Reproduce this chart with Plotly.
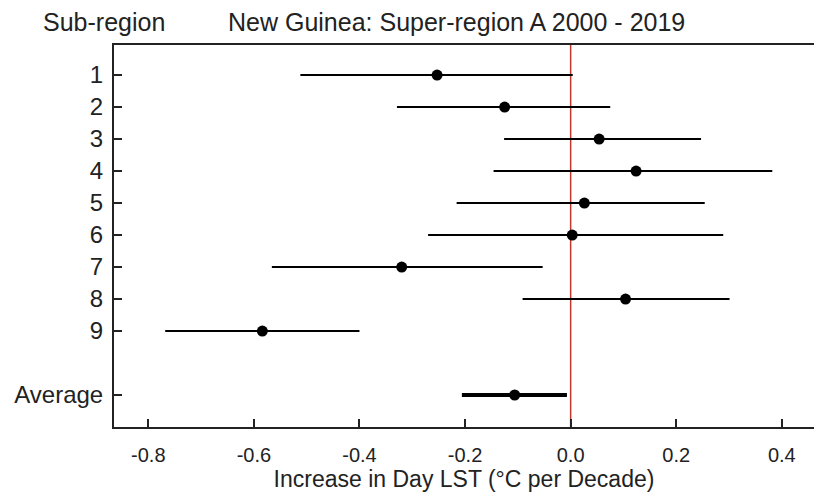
import plotly.graph_objects as go

labels = ["1", "2", "3", "4", "5", "6", "7", "8", "9"]
positions = [1, 2, 3, 4, 5, 6, 7, 8, 9]
estimate = [-0.253, -0.125, 0.054, 0.124, 0.026, 0.003, -0.320, 0.104, -0.584]
lower = [-0.512, -0.329, -0.126, -0.146, -0.216, -0.270, -0.566, -0.091, -0.768]
upper = [0.004, 0.075, 0.247, 0.382, 0.254, 0.289, -0.053, 0.301, -0.400]

avg_label = "Average"
avg_position = 11
avg_estimate = -0.106
avg_lower = -0.206
avg_upper = -0.007

x_ticks = [-0.8, -0.6, -0.4, -0.2, 0.0, 0.2, 0.4]
x_ticktext = ["-0.8", "-0.6", "-0.4", "-0.2", "0.0", "0.2", "0.4"]

FONT = "Liberation Sans, Arial, sans-serif"

fig = go.Figure()

fig.add_trace(go.Scatter(
    x=estimate, y=positions, mode="markers",
    marker=dict(color="black", size=11),
    error_x=dict(type="data", symmetric=False,
                 array=[u - e for u, e in zip(upper, estimate)],
                 arrayminus=[e - l for e, l in zip(estimate, lower)],
                 color="black", thickness=2, width=0),
    showlegend=False, hoverinfo="skip"))

fig.add_trace(go.Scatter(
    x=[avg_estimate], y=[avg_position], mode="markers",
    marker=dict(color="black", size=11),
    error_x=dict(type="data", symmetric=False,
                 array=[avg_upper - avg_estimate],
                 arrayminus=[avg_estimate - avg_lower],
                 color="black", thickness=4, width=0),
    showlegend=False, hoverinfo="skip"))

fig.add_shape(type="line", xref="x", yref="paper", x0=0, x1=0, y0=0, y1=1,
              line=dict(color="#c0392b", width=1.5), layer="below")

fig.update_layout(
    width=814, height=503,
    margin=dict(l=114, r=0, t=45, b=76),
    paper_bgcolor="white", plot_bgcolor="white",
    font=dict(family=FONT, color="#222222"),
    xaxis=dict(range=[-0.865, 0.461], tickvals=x_ticks, ticktext=x_ticktext,
               ticks="inside", ticklen=8, tickwidth=2, tickcolor="#222222",
               showline=True, linecolor="#222222", linewidth=2, mirror=True,
               showgrid=False, zeroline=False,
               tickfont=dict(size=20, family=FONT),
               ticklabelstandoff=9,
               title=dict(text="Increase in Day LST (°C per Decade)",
                          font=dict(size=23, family=FONT), standoff=4)),
    yaxis=dict(range=[12.0, 0.06], tickvals=positions + [avg_position],
               ticktext=labels + [avg_label],
               ticks="inside", ticklen=8, tickwidth=2, tickcolor="#222222",
               showline=True, linecolor="#222222", linewidth=2,
               showgrid=False, zeroline=False,
               tickfont=dict(size=24, family=FONT),
               ticklabelstandoff=4),
    annotations=[
        dict(text="Sub-region", xref="paper", yref="paper", x=-0.1043, y=1.06,
             xanchor="left", yanchor="middle", showarrow=False,
             font=dict(size=25, family=FONT, color="#222222")),
        dict(text="New Guinea: Super-region A 2000 - 2019", xref="paper", yref="paper",
             x=0.16, y=1.06, xanchor="left", yanchor="middle", showarrow=False,
             font=dict(size=25, family=FONT, color="#222222")),
    ],
)

fig.write_html("out.html")
